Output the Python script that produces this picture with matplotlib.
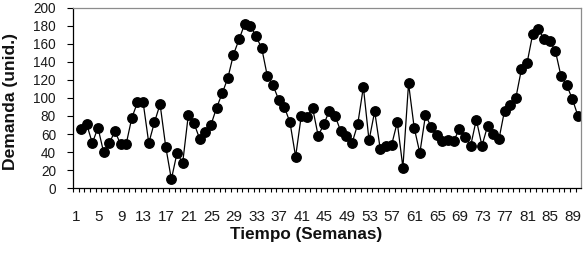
import matplotlib
matplotlib.use("Agg")
import matplotlib.pyplot as plt
import numpy as np

semanas = list(range(1, 90))
demanda = [66, 71, 50, 67, 40, 50, 63, 49, 49, 78,
           95, 95, 50, 73, 93, 46, 10, 39, 28, 81,
           72, 55, 62, 70, 89, 105, 122, 148, 165, 182,
           180, 168, 155, 124, 114, 98, 90, 73, 35, 80,
           79, 89, 58, 71, 86, 80, 63, 58, 50, 71,
           112, 53, 85, 43, 47, 48, 73, 23, 116, 67,
           39, 81, 68, 59, 52, 53, 52, 66, 57, 47,
           76, 47, 69, 60, 54, 86, 92, 100, 132, 139,
           171, 176, 165, 163, 152, 124, 114, 99, 80]
x_labels = list(range(1, 90, 4))
y_ticks = list(range(0, 201, 20))

plt.rcParams['font.family'] = ['Liberation Sans', 'DejaVu Sans']

fig = plt.figure(figsize=(5.87, 2.54), dpi=100)
ax = fig.add_axes([73/587, 1-188.3/254, (580.5-73)/587, (188.3-7.5)/254])

ax.plot(semanas, demanda, color='black', linewidth=0.9, marker='o',
        markersize=6.8, markerfacecolor='black', markeredgecolor='black')

ax.set_xlim(-0.42, 89.45)
ax.set_ylim(0, 200)

ax.set_yticks(y_ticks)
ax.set_yticklabels([str(v) for v in y_ticks], fontsize=9.8, color='#1a1a1a')
ax.tick_params(axis='y', direction='out', length=4.3, width=0.8, pad=8, color='black')

ax.set_xticks([v - 0.9 for v in x_labels])
ax.set_xticklabels([str(v) for v in x_labels], fontsize=11, color='#1a1a1a')
ax.tick_params(axis='x', which='major', length=0, pad=15.5)
ax.set_xticks(np.arange(-0.42, 89.5, 1.0), minor=True)
ax.tick_params(axis='x', which='minor', direction='out', length=3.2, width=0.8, color='black')

for s in ['left', 'bottom']:
    ax.spines[s].set_color('black')
    ax.spines[s].set_linewidth(0.9)
for s in ['top', 'right']:
    ax.spines[s].set_color('#8c8c8c')
    ax.spines[s].set_linewidth(0.9)

fig.text(306/587, 1-235/254, 'Tiempo (Semanas)', ha='center', va='center',
         fontsize=12.3, fontweight='bold', color='#111111')
fig.text(10.5/587, 1-102/254, 'Demanda (unid.)', ha='center', va='center',
         rotation=90, fontsize=12.6, fontweight='bold', color='#111111')

fig.savefig('out.png', dpi=100)
